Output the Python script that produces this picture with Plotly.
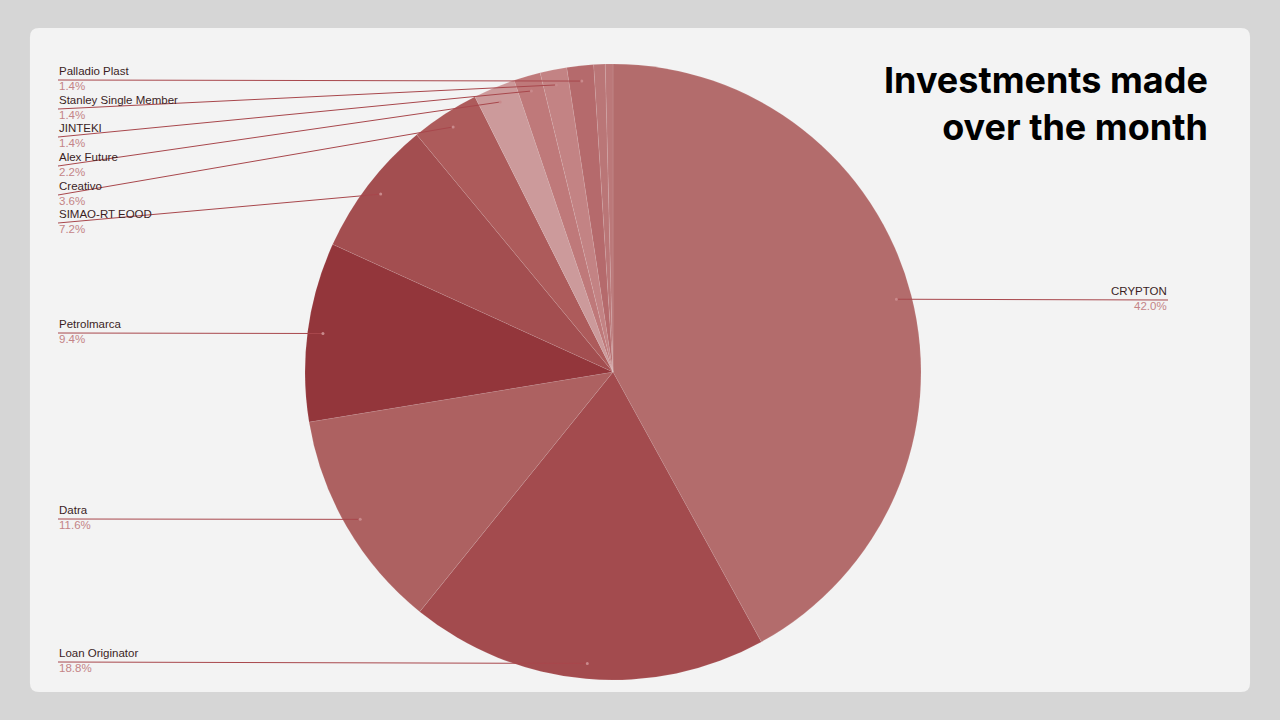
import math
import plotly.graph_objects as go

# Data
names = ["CRYPTON", "Loan Originator", "Datra", "Petrolmarca", "SIMAO-RT EOOD", "Creativo",
         "Alex Future", "JINTEKI", "Stanley Single Member", "Palladio Plast", "", ""]
shares = [42.0, 18.8, 11.6, 9.4, 7.2, 3.6, 2.2, 1.4, 1.4, 1.4, 0.6, 0.4]
colors = ["#b36c6c", "#a34b4e", "#ad6161", "#93363b", "#a34e50", "#ad5b5b",
          "#cc9a9b", "#bf797a", "#c38384", "#b56a6c", "#ba7677", "#bb7879"]

W, H = 1280, 720
cx, cy, R = 613, 372, 308

# label line y (px) for each labelled slice
label_y = [300, 662, 519, 333, 223, 195, 166, 137, 109, 80]

fig = go.Figure()
fig.add_trace(go.Pie(
    labels=[n if n else f"other{i}" for i, n in enumerate(names)], values=shares,
    sort=False, direction="clockwise", rotation=0,
    marker=dict(colors=colors, line=dict(color="rgba(255,255,255,0.15)", width=0.6)),
    textinfo="none", hoverinfo="label+percent", showlegend=False,
    domain=dict(x=[(cx - R) / W, (cx + R) / W], y=[1 - (cy + R) / H, 1 - (cy - R) / H]),
))

shapes = [dict(type="path", xref="paper", yref="paper",
               path="M 0.0305,0.0389 L 0.9695,0.0389 Q 0.9766,0.0389 0.9766,0.0514 L 0.9766,0.9486 "
                    "Q 0.9766,0.9611 0.9695,0.9611 L 0.0305,0.9611 Q 0.0234,0.9611 0.0234,0.9486 "
                    "L 0.0234,0.0514 Q 0.0234,0.0389 0.0305,0.0389 Z",
               fillcolor="#f3f3f3", line=dict(width=0), layer="below")]
annotations = []
total = sum(shares)
cum = 0.0
for i, (n, v) in enumerate(zip(names, shares)):
    mid = (cum + v / 2) / total * 2 * math.pi
    cum += v
    if not n:
        continue
    ax = cx + 0.95 * R * math.sin(mid)
    ay = cy - 0.95 * R * math.cos(mid)
    ly = label_y[i]
    right = ax > cx
    lx = 1168 if right else 58
    shapes.append(dict(type="line", xref="paper", yref="paper", x0=lx / W, y0=1 - ly / H,
                       x1=ax / W, y1=1 - ay / H, line=dict(color="#a8474c", width=1)))
    shapes.append(dict(type="circle", xref="paper", yref="paper", x0=(ax - 1.5) / W, x1=(ax + 1.5) / W,
                       y0=1 - (ay + 1.5) / H, y1=1 - (ay - 1.5) / H,
                       fillcolor="#c98a8c", line=dict(width=0)))
    xa = "right" if right else "left"
    annotations.append(dict(x=lx / W, y=1 - (ly - 2) / H, xref="paper", yref="paper", text=n,
                            showarrow=False, xanchor=xa, yanchor="bottom", borderpad=0,
                            font=dict(family="Liberation Sans", size=11.5, color="#3b1e1f")))
    annotations.append(dict(x=lx / W, y=1 - (ly - 1) / H, xref="paper", yref="paper",
                            text=f"{v:.1f}%", showarrow=False, xanchor=xa, yanchor="top",
                            borderpad=0,
                            font=dict(family="Liberation Sans", size=11.5, color="#c48486")))

annotations.append(dict(x=1210 / W, y=1 - 56 / H, xref="paper", yref="paper",
                        text="<b>Investments made<br>over the month</b>", showarrow=False,
                        xanchor="right", yanchor="top", align="right",
                        font=dict(family="Inter", size=36, color="#000000")))

fig.update_layout(
    width=W, height=H, margin=dict(l=0, r=0, t=0, b=0),
    paper_bgcolor="#d6d6d6", plot_bgcolor="#d6d6d6",
    shapes=shapes, annotations=annotations,
)

fig.write_html("out.html", config={"displayModeBar": False},
               post_script="document.body.style.margin='0';document.body.style.overflow='hidden';")
